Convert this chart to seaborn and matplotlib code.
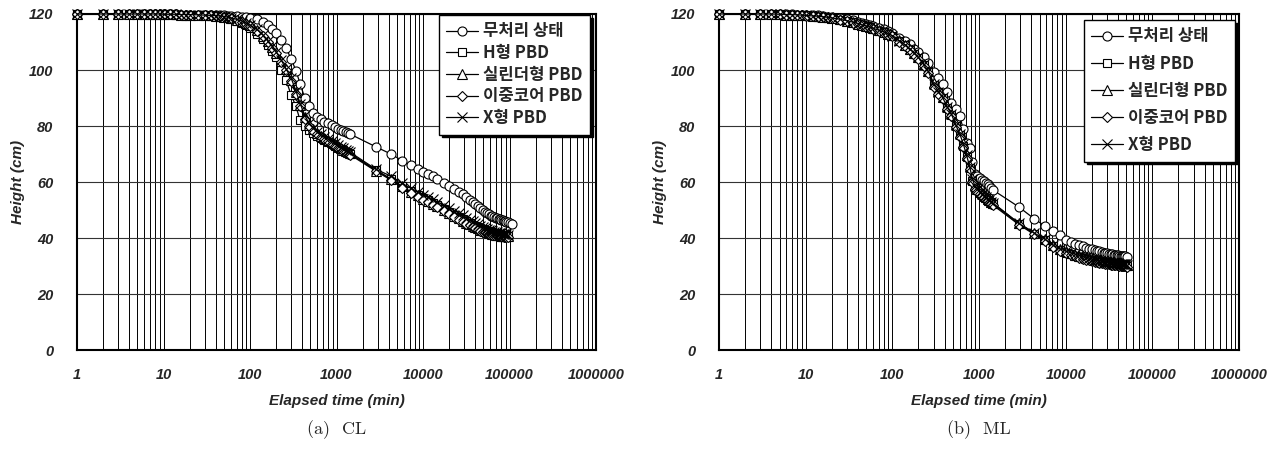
import numpy as np
import pandas as pd
import matplotlib
matplotlib.use('Agg')
import matplotlib.pyplot as plt
import matplotlib.ticker as mticker
import seaborn as sns

nan = np.nan

# series names (legend order) and markers
names = ['무처리 상태', 'H형 PBD', '실린더형 PBD', '이중코어 PBD', 'X형 PBD']
markers = ['o', 's', '^', 'D', 'x']
marker_sizes = [6.5, 6, 6.5, 5, 6.5]
x_ticks = [1, 10, 100, 1000, 10000, 100000, 1000000]

# ---------------- (a) CL ----------------
t_cl = [1, 2, 3, 4, 5, 6, 7, 8, 9, 10, 12, 14, 16, 18, 20,
        25, 30, 35, 40, 45, 50, 55, 60, 70, 80, 90, 100,
        120, 140, 160, 180, 200, 230, 260, 300, 340, 380,
        430, 480, 540, 600, 660, 720,
        800, 880, 960, 1040, 1120, 1200, 1280, 1360, 1440,
        2880, 4320, 5760, 7200, 8640, 10080, 11520, 12960, 14400,
        17280, 20160, 23040, 25920, 28800, 31680, 34560, 37440, 40320, 43200,
        46080, 48960, 51840, 54720, 57600, 60480, 63360, 66240, 69120, 72000,
        74880, 77760, 80640, 83520, 86400, 89280, 92160, 95040,
        100800, 108000]

cl_none = [120, 120, 120, 120, 120, 120, 120, 120, 120, 119.9, 119.9, 119.9, 119.8, 119.8, 119.8,
           119.7, 119.7, 119.6, 119.6, 119.5, 119.5, 119.4, 119.3, 119.2, 119.0, 118.8, 118.6,
           118.2, 117.3, 116.2, 114.6, 113.2, 110.8, 108.0, 103.8, 99.8, 95.0,
           90.0, 87.0, 84.8, 83.3, 82.4, 81.6,
           80.9, 80.2, 79.6, 79.1, 78.7, 78.3, 77.9, 77.5, 77.1,
           72.5, 69.9, 67.6, 66.0, 64.8, 63.6, 62.8, 62.0, 61.2,
           59.8, 58.5, 57.4, 56.5, 55.6, 54.6, 53.7, 52.9, 52.1, 51.4,
           50.7, 50.0, 49.4, 48.9, 48.4, 48.0, 47.7, 47.4, 47.2, 47.0,
           46.8, 46.7, 46.6, 46.4, 46.2, 46.0, 45.8, 45.7,
           45.4, 45.0]

cl_h = [120, 120, 120, 120, 120, 120, 120, 120, 120, 119.9, 119.9, 119.8, 119.8, 119.7, 119.7,
        119.6, 119.5, 119.4, 119.3, 119.1, 118.9, 118.6, 118.2, 117.6, 116.9, 116.0, 115.0,
        113.0, 111.0, 108.8, 106.8, 104.5, 100.0, 96.5, 91.0, 87.0, 82.0,
        80.0, 78.5, 77.5, 76.6, 75.8, 75.0,
        74.3, 73.6, 72.9, 72.3, 71.8, 71.3, 70.8, 70.4, 70.0,
        64.2, 61.0, 58.6, 56.9, 55.5, 54.4, 53.4, 52.5, 51.7,
        50.4, 49.3, 48.3, 47.5, 46.7, 46.0, 45.4, 44.8, 44.3, 43.9,
        43.5, 43.2, 42.9, 42.6, 42.4, 42.2, 42.0, 41.8, 41.6, 41.5,
        41.4, 41.3, 41.2, 41.1, 41.0, 41.0, 40.9, 40.8,
        nan, nan]

cl_cyl = [120, 120, 120, 120, 120, 120, 120, 120, 120, 119.9, 119.9, 119.9, 119.8, 119.8, 119.8,
          119.7, 119.6, 119.5, 119.4, 119.3, 119.1, 118.9, 118.6, 118.0, 117.4, 116.8, 116.0,
          114.3, 112.3, 110.2, 108.2, 106.2, 103.3, 100.3, 96.5, 92.0, 87.5,
          83.2, 80.5, 78.8, 77.6, 76.6, 75.8,
          75.0, 74.2, 73.5, 72.8, 72.2, 71.6, 71.1, 70.6, 70.2,
          64.0, 61.0, 58.4, 56.6, 55.2, 54.1, 53.1, 52.2, 51.4,
          50.0, 48.9, 47.9, 47.0, 46.2, 45.5, 44.9, 44.3, 43.8, 43.4,
          43.0, 42.7, 42.4, 42.1, 41.9, 41.7, 41.5, 41.3, 41.2, 41.1,
          41.0, 40.9, 40.8, 40.8, 40.7, 40.7, 40.6, 40.6,
          nan, nan]

cl_dual = [120, 120, 120, 120, 120, 120, 120, 120, 120, 119.9, 119.9, 119.9, 119.8, 119.8, 119.7,
           119.7, 119.6, 119.5, 119.4, 119.2, 119.0, 118.8, 118.5, 117.9, 117.2, 116.5, 115.7,
           114.0, 112.0, 110.0, 108.0, 106.0, 103.0, 100.0, 96.0, 91.5, 87.0,
           82.5, 80.0, 78.3, 77.0, 76.0, 75.2,
           74.5, 73.7, 73.0, 72.3, 71.7, 71.1, 70.6, 70.1, 69.7,
           63.8, 60.6, 58.0, 56.2, 54.8, 53.7, 52.7, 51.8, 51.0,
           49.6, 48.5, 47.5, 46.6, 45.8, 45.1, 44.5, 43.9, 43.4, 43.0,
           42.6, 42.3, 42.0, 41.8, 41.6, 41.4, 41.2, 41.1, 41.0, 40.9,
           40.8, 40.7, 40.6, 40.6, 40.5, 40.5, 40.4, 40.4,
           nan, nan]

cl_x = [120, 120, 120, 120, 120, 120, 120, 120, 120, 119.9, 119.9, 119.9, 119.8, 119.8, 119.8,
        119.7, 119.6, 119.5, 119.4, 119.3, 119.1, 118.9, 118.6, 118.1, 117.5, 116.8, 116.1,
        114.5, 112.6, 110.5, 108.5, 106.5, 103.5, 100.5, 97.0, 92.5, 88.0,
        83.8, 81.0, 79.3, 78.0, 77.0, 76.2,
        75.4, 74.6, 73.9, 73.2, 72.6, 72.0, 71.5, 71.0, 70.6,
        64.5, 62.0, 59.5, 57.8, 56.5, 55.5, 54.6, 53.8, 53.0,
        51.8, 50.8, 49.8, 48.9, 48.1, 47.3, 46.6, 46.0, 45.4, 44.9,
        44.4, 44.0, 43.6, 43.3, 43.0, 42.7, 42.5, 42.3, 42.1, 42.0,
        41.9, 41.8, 41.7, 41.6, 41.5, 41.4, 41.3, 41.2,
        nan, nan]

# ---------------- (b) ML ----------------
t_ml = [1, 2, 3, 4, 5, 6, 7, 8, 9, 10, 12, 14, 16, 18, 20,
        25, 30, 35, 40, 45, 50, 55, 60, 70, 80, 90, 100,
        120, 140, 160, 180, 200, 230, 260, 300, 340, 380,
        430, 480, 540, 600, 660, 720,
        780, 840, 900, 960, 1020, 1080, 1140, 1200, 1260, 1320, 1380, 1440,
        2880, 4320, 5760, 7200, 8640, 10080, 11520, 12960, 14400,
        15840, 17280, 18720, 20160, 21600, 23040, 24480, 25920, 27360, 28800,
        30240, 31680, 33120, 34560, 36000, 37440, 38880, 40320, 41760, 43200,
        44640, 46080, 47520, 48960, 50400]

ml_none = [120, 120, 120, 120, 120, 119.9, 119.9, 119.8, 119.8, 119.7, 119.6, 119.5, 119.3, 119.1, 118.9,
           118.5, 118.1, 117.7, 117.3, 116.9, 116.5, 116.1, 115.7, 115.0, 114.5, 113.9, 113.3,
           111.6, 110.5, 109.2, 107.6, 106.3, 104.5, 102.6, 99.4, 97.2, 95.0,
           92.0, 88.3, 86.2, 83.5, 78.8, 74.0,
           72.0, 67.0, 63.0, 62.0, 61.3, 60.7, 60.2, 59.7, 59.2, 58.6, 58.0, 57.2,
           51.1, 46.9, 44.3, 42.5, 41.2, 39.4, 38.6, 38.0, 37.5,
           37.0, 36.6, 36.2, 35.9, 35.6, 35.4, 35.2, 35.0, 34.8, 34.7,
           34.5, 34.4, 34.3, 34.2, 34.1, 34.0, 33.9, 33.8, 33.7, 33.7,
           33.6, 33.5, 33.5, 33.4, 33.3]

ml_h = [120, 120, 120, 120, 119.9, 119.8, 119.7, 119.7, 119.6, 119.5, 119.3, 119.1, 118.9, 118.7, 118.5,
        118.0, 117.5, 117.0, 116.5, 116.0, 115.6, 115.2, 114.8, 114.1, 113.5, 112.8, 112.2,
        110.3, 108.8, 107.3, 105.8, 104.3, 101.8, 99.2, 94.5, 92.0, 90.0,
        86.5, 84.0, 80.0, 76.8, 73.0, 69.0,
        65.0, 60.5, 58.0, 57.0, 56.2, 55.5, 54.8, 54.2, 53.6, 53.1, 52.7, 52.3,
        45.0, 41.6, 39.3, 37.0, 35.6, 34.8, 34.2, 33.7, 33.3,
        32.9, 32.6, 32.3, 32.1, 31.9, 31.7, 31.5, 31.4, 31.2, 31.1,
        31.0, 30.9, 30.8, 30.7, 30.7, 30.6, 30.5, 30.5, 30.4, 30.4,
        30.3, 30.3, 30.2, 30.2, 30.1]

ml_cyl = [120, 120, 120, 120, 119.9, 119.8, 119.8, 119.7, 119.6, 119.5, 119.3, 119.2, 119.0, 118.8, 118.6,
          118.1, 117.6, 117.1, 116.6, 116.1, 115.7, 115.3, 114.9, 114.3, 113.7, 113.0, 112.4,
          110.6, 109.1, 107.6, 106.1, 104.6, 102.2, 99.7, 95.2, 92.6, 90.5,
          87.0, 84.6, 80.6, 77.5, 73.8, 69.8,
          65.8, 61.5, 58.8, 57.6, 56.8, 56.0, 55.3, 54.6, 54.0, 53.5, 53.0, 52.6,
          45.3, 41.9, 39.6, 37.4, 36.0, 35.2, 34.6, 34.1, 33.7,
          33.3, 33.0, 32.7, 32.4, 32.2, 32.0, 31.8, 31.6, 31.5, 31.4,
          31.3, 31.2, 31.1, 31.0, 30.9, 30.9, 30.8, 30.8, 30.7, 30.7,
          30.6, 30.6, 30.5, 30.5, 30.4]

ml_dual = [120, 120, 120, 120, 119.9, 119.8, 119.7, 119.6, 119.5, 119.4, 119.2, 119.0, 118.8, 118.6, 118.4,
           117.9, 117.4, 116.9, 116.4, 115.9, 115.4, 115.0, 114.6, 113.9, 113.3, 112.6, 112.0,
           110.1, 108.6, 107.0, 105.5, 104.0, 101.5, 98.8, 94.0, 91.5, 89.5,
           86.0, 83.4, 79.5, 76.2, 72.4, 68.4,
           64.5, 60.0, 57.6, 56.6, 55.8, 55.0, 54.3, 53.7, 53.1, 52.6, 52.2, 51.8,
           44.8, 41.3, 39.0, 36.7, 35.3, 34.5, 33.9, 33.4, 33.0,
           32.6, 32.3, 32.0, 31.8, 31.6, 31.4, 31.2, 31.1, 30.9, 30.8,
           30.7, 30.6, 30.5, 30.4, 30.4, 30.3, 30.2, 30.2, 30.1, 30.1,
           30.0, 30.0, 29.9, 29.9, 29.8]

ml_x = [120, 120, 120, 120, 119.9, 119.8, 119.8, 119.7, 119.6, 119.5, 119.3, 119.2, 119.0, 118.8, 118.6,
        118.1, 117.6, 117.1, 116.6, 116.1, 115.7, 115.3, 114.9, 114.2, 113.6, 112.9, 112.3,
        110.5, 109.0, 107.5, 106.0, 104.5, 102.0, 99.5, 95.0, 92.3, 90.2,
        86.8, 84.3, 80.3, 77.2, 73.5, 69.5,
        65.5, 61.0, 58.5, 57.4, 56.6, 55.8, 55.1, 54.5, 53.9, 53.4, 52.9, 52.5,
        45.2, 41.8, 39.6, 37.4, 36.1, 35.3, 34.7, 34.2, 33.8,
        33.4, 33.1, 32.8, 32.5, 32.3, 32.1, 31.9, 31.7, 31.6, 31.5,
        31.4, 31.3, 31.2, 31.1, 31.0, 31.0, 30.9, 30.9, 30.8, 30.8,
        30.7, 30.7, 30.6, 30.6, 30.5]


def long_table(times, series):
    frames = []
    for name, vals in zip(names, series):
        frames.append(pd.DataFrame({'time': times, 'height': vals, 'case': name}))
    return pd.concat(frames, ignore_index=True).dropna()


df_cl = long_table(t_cl, [cl_none, cl_h, cl_cyl, cl_dual, cl_x])
df_ml = long_table(t_ml, [ml_none, ml_h, ml_cyl, ml_dual, ml_x])

sns.set_style('white')
plt.rcParams['font.family'] = ['Liberation Sans', 'DejaVu Sans']

fig = plt.figure(figsize=(12.77, 4.55), dpi=100)
ax_a = fig.add_axes([77 / 1277, 105 / 455, 519 / 1277, 336 / 455])
ax_b = fig.add_axes([719 / 1277, 105 / 455, 520 / 1277, 336 / 455])

tick_font = dict(family='Liberation Sans', weight='bold', style='italic', size=10.5)
leg_font = dict(family=['Noto Sans CJK KR', 'DejaVu Sans'], weight='bold', size=12)


def draw_panel(ax, df, leg_anchor, leg_spacing, caption):
    for name, mk, ms in zip(names, markers, marker_sizes):
        sub = df[df['case'] == name]
        sns.lineplot(data=sub, x='time', y='height', ax=ax, estimator=None,
                     color='black', lw=0.9, marker=mk, markersize=ms,
                     markerfacecolor='white', markeredgecolor='black',
                     markeredgewidth=0.8, label=name, clip_on=False, zorder=3)

    ax.set_xscale('log')
    ax.set_xlim(1, 1e6)
    ax.set_ylim(0, 120)
    ax.set_yticks(range(0, 121, 20))
    ax.set_xticks(x_ticks)
    ax.set_xticklabels([str(v) for v in x_ticks])
    ax.xaxis.set_minor_locator(mticker.LogLocator(base=10, subs=range(2, 10), numticks=20))
    ax.xaxis.set_minor_formatter(mticker.NullFormatter())

    ax.grid(True, which='both', axis='x', color='black', lw=0.7)
    ax.grid(True, which='major', axis='y', color='#333333', lw=0.8)
    ax.tick_params(which='both', length=0)
    ax.tick_params(axis='x', pad=13)
    ax.tick_params(axis='y', pad=17)
    for lab in ax.get_xticklabels() + ax.get_yticklabels():
        lab.set(**tick_font)

    for sp in ax.spines.values():
        sp.set_color('black')
        sp.set_linewidth(1.5)

    ax.set_xlabel('Elapsed time (min)', fontsize=11, fontweight='bold', fontstyle='italic')
    ax.set_ylabel('Height (cm)', fontsize=11, fontweight='bold', fontstyle='italic')
    ax.xaxis.set_label_coords(0.5, -0.13)
    ax.yaxis.set_label_coords(-0.1, 0.5)

    leg = ax.legend(loc='upper right', bbox_to_anchor=leg_anchor, borderaxespad=0,
                    prop=leg_font, frameon=True, fancybox=False,
                    shadow={'color': 'black', 'alpha': 1}, framealpha=1,
                    edgecolor='black', handlelength=1.9, handletextpad=0.3,
                    labelspacing=leg_spacing, borderpad=0.45)
    leg.get_frame().set_linewidth(1.0)
    leg.set_zorder(10)

    pos = ax.get_position()
    fig.text(pos.x0 + pos.width / 2, 1 - 430 / 455, caption, ha='center', va='center',
             family=['cmr10', 'DejaVu Serif'], fontsize=13)


draw_panel(ax_a, df_cl, ((590 - 77) / 519, (350 - 15) / 336), 0.22, '(a)  CL')
draw_panel(ax_b, df_ml, ((1235 - 719) / 520, (350 - 20) / 336), 0.55, '(b)  ML')

fig.savefig('out.png', dpi=100)
